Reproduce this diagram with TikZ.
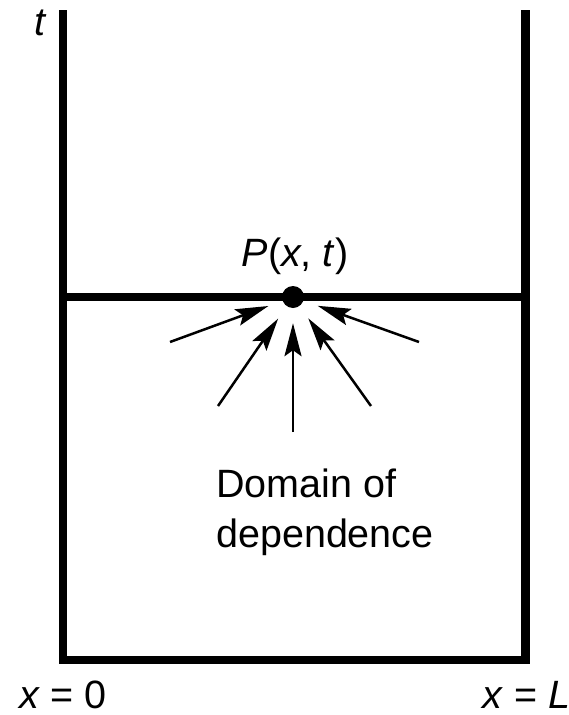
\documentclass[tikz,border=0pt]{standalone}
\usepackage{fontspec}
\setmainfont{Liberation Sans}
\usetikzlibrary{arrows.meta}
\begin{document}
\begin{tikzpicture}[x=1pt,y=-1pt,
  frame/.style={line width=8.5pt, line join=miter},
  lbl/.style={font=\fontsize{39.5}{50}\selectfont, inner sep=0pt},
  arr/.style={line width=2.5pt, -{Stealth[length=33pt,width=17pt,inset=6pt]}, shorten >=15pt}]
\useasboundingbox (0,0) rectangle (569,715);
% frame
\coordinate (tl) at (63,10);
\coordinate (bl) at (63,660);
\coordinate (br) at (525.5,660);
\coordinate (tr) at (525.5,10);
\coordinate (ml) at (63,297);
\coordinate (mr) at (525.5,297);
\draw[frame] (tl) -- (bl) -- (br) -- (tr);
\draw[frame] (ml) -- (mr);
% point
\node[circle, fill, inner sep=0pt, minimum size=22pt] (P) at (293,297) {};
\node[lbl, anchor=base] (Plab) at (295,266) {\textit{P}(\textit{x}, \textit{t})};
% arrows
\coordinate (a1) at (170,342);
\coordinate (a2) at (218,406);
\coordinate (a3) at (293,432);
\coordinate (a4) at (371,406);
\coordinate (a5) at (419,342);
\foreach \a in {a1,a2,a3,a4,a5} \draw[arr] (\a) -- (P);
% labels
\node[lbl, anchor=base west] (dom1) at (216,497) {Domain of};
\node[lbl, anchor=base west] (dom2) at (216,547) {dependence};
\node[lbl, anchor=base] (tlab) at (41,35) {\textit{t}};
\node[lbl, anchor=base] (x0) at (63,708) {\textit{x} = 0};
\node[lbl, anchor=base west] (xL) at (482,708) {\textit{x} = \textit{L}};
\end{tikzpicture}
\end{document}
